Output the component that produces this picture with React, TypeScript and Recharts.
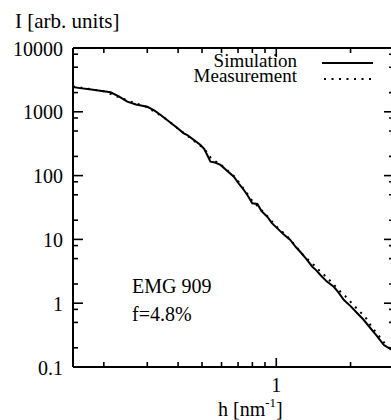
import React from 'react';
import { LineChart, Line, XAxis, YAxis, Legend } from 'recharts';

const FONT =
  "'Times New Roman', Times, 'Liberation Serif', Tinos, 'Noto Serif', 'DejaVu Serif', serif";
const textStyle: React.CSSProperties = { fontFamily: FONT };

// Simulated scattering intensity I(h), log-log
const simH = [
  0.15, 0.16, 0.175, 0.19, 0.213, 0.23, 0.249, 0.27, 0.3, 0.32, 0.34, 0.361, 0.39,
  0.422, 0.436, 0.46, 0.493, 0.51, 0.525, 0.541, 0.565, 0.594, 0.63, 0.673, 0.705,
  0.739, 0.77, 0.799, 0.838, 0.87, 0.919, 0.96, 1.01, 1.07, 1.14, 1.2, 1.25, 1.32,
  1.4, 1.45, 1.51, 1.6, 1.71, 1.78, 1.88, 2.0, 2.13, 2.25, 2.41, 2.55, 2.73, 2.85,
  2.95,
];
const simI = [
  2450, 2350, 2250, 2150, 2020, 1750, 1440, 1300, 1200, 1050, 891, 743, 590, 460,
  432, 370, 302, 262, 210, 165, 160, 147, 120, 96, 75, 59.5, 47, 36.8, 36, 28,
  22.7, 18, 14.9, 12, 9.8, 7.6, 6.4, 5.0, 3.73, 3.3, 2.77, 2.2, 1.81, 1.5, 1.12,
  0.9, 0.695, 0.56, 0.405, 0.31, 0.221, 0.2, 0.185,
];

// Measured intensity I(h)
const measH = [
  0.15, 0.2, 0.25, 0.3, 0.36, 0.42, 0.49, 0.52, 0.545, 0.6, 0.68, 0.75, 0.8, 0.85,
  0.92, 1.0, 1.1, 1.2, 1.3, 1.4, 1.5, 1.6, 1.7, 1.8, 1.9, 2.0, 2.15, 2.3, 2.45,
  2.6, 2.75, 2.9,
];
const measI = [
  2500, 2100, 1500, 1180, 760, 470, 300, 240, 185, 145, 95, 57, 40, 32, 23, 16,
  11.5, 7.8, 5.4, 4.2, 3.2, 2.55, 2.0, 1.58, 1.3, 1.05, 0.78, 0.6, 0.41, 0.31,
  0.235, 0.19,
];

const seriesNames = ['Simulation', 'Measurement'];

const xTicks = [0.2, 0.3, 0.4, 0.5, 0.6, 0.7, 0.8, 0.9, 1, 2, 3];
const xLabelled = [1];
const yTicks = [
  0.1, 0.2, 0.5, 0.8, 1, 2, 5, 8, 10, 20, 50, 80, 100, 200, 500, 800, 1000, 2000,
  5000, 8000, 10000,
];
const yLabelled = [0.1, 1, 10, 100, 1000, 10000];

const simData = simH.map((h, i) => ({ h, I: simI[i] }));
const measData = measH.map((h, i) => ({ h, I: measI[i] }));

const tickStroke = { stroke: '#000', strokeWidth: 1.6 };

const BottomTick = (p: any) => {
  const v = p.payload.value;
  const major = xLabelled.includes(v);
  return (
    <g>
      <line x1={p.x} y1={p.y} x2={p.x} y2={p.y - (major ? 9 : 5)} {...tickStroke} />
      {major && (
        <text x={p.x} y={p.y + 25} textAnchor="middle" style={textStyle} fontSize={20} fill="#000">
          {v}
        </text>
      )}
    </g>
  );
};

const TopTick = (p: any) => {
  const v = p.payload.value;
  const major = xLabelled.includes(v);
  return <line x1={p.x} y1={p.y} x2={p.x} y2={p.y + (major ? 9 : 5)} {...tickStroke} />;
};

const LeftTick = (p: any) => {
  const v = p.payload.value;
  const major = yLabelled.includes(v);
  return (
    <g>
      <line x1={p.x} y1={p.y} x2={p.x + (major ? 10 : 5)} y2={p.y} {...tickStroke} />
      {major && (
        <text x={p.x - 10} y={p.y + 7.5} textAnchor="end" style={textStyle} fontSize={20} fill="#000">
          {v}
        </text>
      )}
    </g>
  );
};

const RightTick = (p: any) => {
  const v = p.payload.value;
  const major = yLabelled.includes(v);
  return <line x1={p.x} y1={p.y} x2={p.x - (major ? 10 : 5)} y2={p.y} {...tickStroke} />;
};

// Legend box spans x 145..385 on the page
const LegendBox = () => (
  <svg width={240} height={40} style={{ display: 'block' }}>
    <text x={152} y={19} textAnchor="end" style={textStyle} fontSize={19} fill="#000">
      {seriesNames[0]}
    </text>
    <line x1={177} y1={15} x2={228} y2={15} stroke="#000" strokeWidth={2} />
    <text x={152} y={34} textAnchor="end" style={textStyle} fontSize={19} fill="#000">
      {seriesNames[1]}
    </text>
    <line x1={179} y1={31} x2={226} y2={31} stroke="#000" strokeWidth={2} strokeDasharray="2 5.5" />
  </svg>
);

export default function App() {
  return (
    <div
      style={{
        position: 'absolute',
        left: 0,
        top: 0,
        width: 391,
        height: 420,
        overflow: 'hidden',
        background: '#fff',
        fontFamily: FONT,
      }}
    >
      <LineChart width={400} height={420} margin={{ top: 0, right: 0, bottom: 0, left: 0 }}>
        <XAxis
          xAxisId="b"
          dataKey="h"
          type="number"
          scale="log"
          domain={[0.15, 3]}
          allowDataOverflow
          ticks={xTicks}
          interval={0}
          orientation="bottom"
          height={53}
          tickSize={0}
          tickMargin={0}
          tickLine={false}
          tick={<BottomTick />}
          axisLine={{ stroke: '#000', strokeWidth: 2 }}
        />
        <XAxis
          xAxisId="t"
          dataKey="h"
          type="number"
          scale="log"
          domain={[0.15, 3]}
          allowDataOverflow
          ticks={xTicks}
          interval={0}
          orientation="top"
          height={48}
          tickSize={0}
          tickMargin={0}
          tickLine={false}
          tick={<TopTick />}
          axisLine={{ stroke: '#000', strokeWidth: 2 }}
        />
        <YAxis
          yAxisId="l"
          dataKey="I"
          type="number"
          scale="log"
          domain={[0.1, 10000]}
          allowDataOverflow
          ticks={yTicks}
          interval={0}
          orientation="left"
          width={73}
          tickSize={0}
          tickMargin={0}
          tickLine={false}
          tick={<LeftTick />}
          axisLine={{ stroke: '#000', strokeWidth: 2 }}
        />
        <YAxis
          yAxisId="r"
          dataKey="I"
          type="number"
          scale="log"
          domain={[0.1, 10000]}
          allowDataOverflow
          ticks={yTicks}
          interval={0}
          orientation="right"
          width={6}
          tickSize={0}
          tickMargin={0}
          tickLine={false}
          tick={<RightTick />}
          axisLine={{ stroke: '#000', strokeWidth: 2 }}
        />
        <Legend
          layout="horizontal"
          verticalAlign="middle"
          align="center"
          content={<LegendBox />}
          wrapperStyle={{ position: 'absolute', left: 145, top: 48, width: 240, height: 40 }}
        />
        <Line
          name={seriesNames[1]}
          xAxisId="b"
          yAxisId="l"
          data={measData}
          dataKey="I"
          type="linear"
          stroke="#000"
          strokeWidth={2}
          strokeDasharray="2 5.5"
          dot={false}
          isAnimationActive={false}
        />
        <Line
          name={seriesNames[0]}
          xAxisId="b"
          yAxisId="l"
          data={simData}
          dataKey="I"
          type="linear"
          stroke="#000"
          strokeWidth={2}
          dot={false}
          isAnimationActive={false}
        />
      </LineChart>
      <svg
        width={391}
        height={420}
        style={{ position: 'absolute', left: 0, top: 0, pointerEvents: 'none' }}
      >
        <text x={15} y={28} style={textStyle} fontSize={21} fill="#000">
          I [arb. units]
        </text>
        <text x={218} y={416} style={textStyle} fontSize={20} fill="#000">
          h [nm
          <tspan dy={-9} fontSize={13}>-1</tspan>
          <tspan dy={9}>]</tspan>
        </text>
        <text x={132} y={293} style={textStyle} fontSize={20} fill="#000">
          EMG 909
        </text>
        <text x={132} y={321} style={textStyle} fontSize={20} fill="#000">
          f=4.8%
        </text>
      </svg>
    </div>
  );
}
